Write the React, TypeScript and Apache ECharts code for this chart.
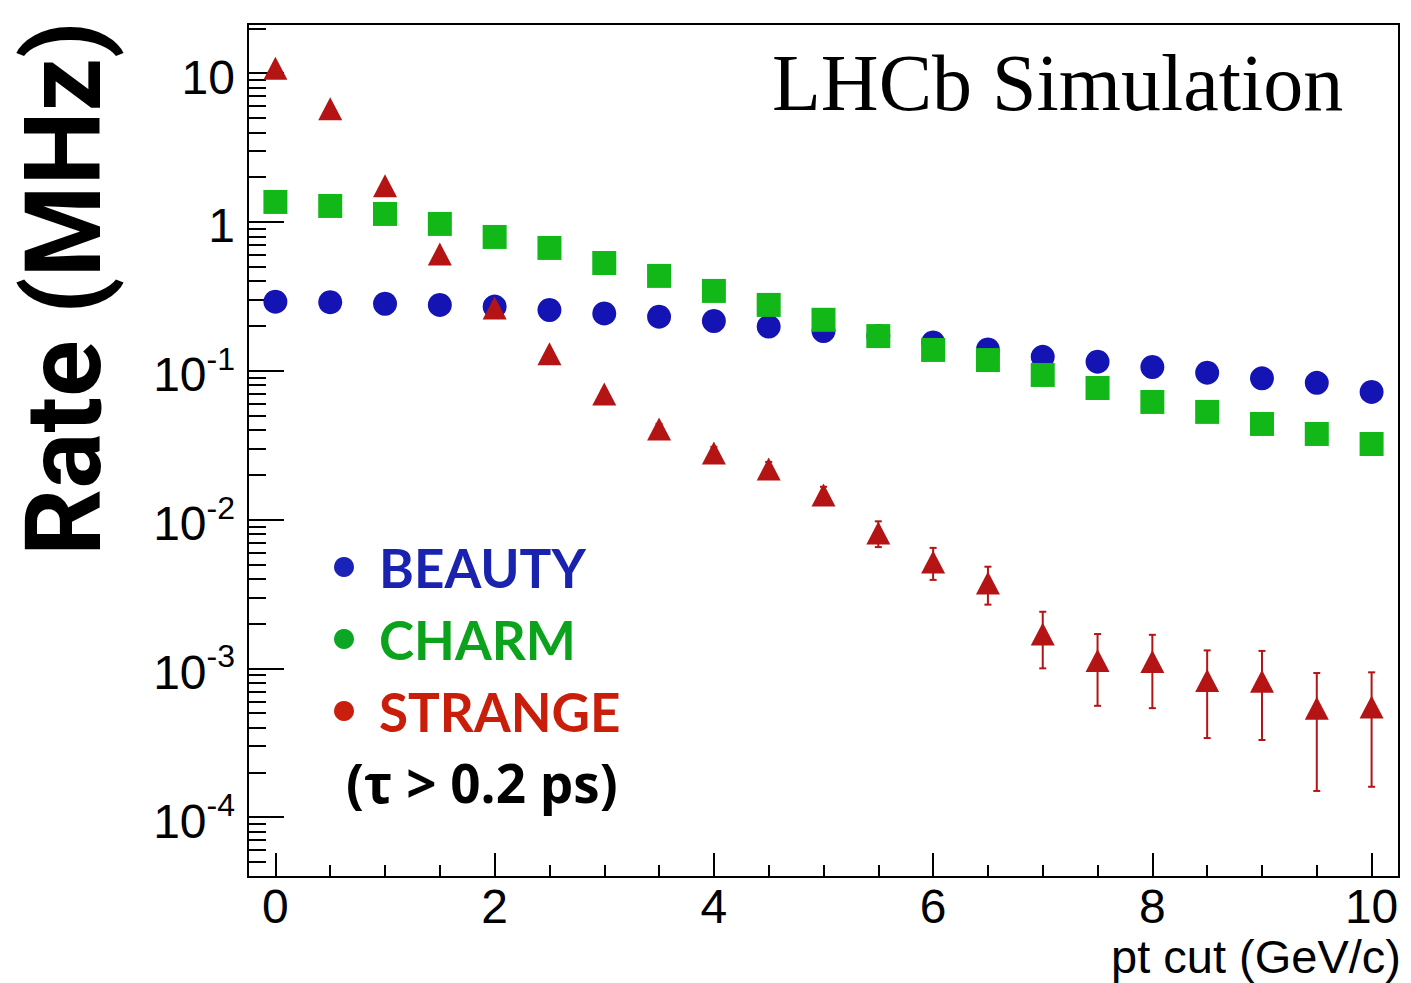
import React, { useEffect, useRef } from "react";
import * as echarts from "echarts";

// pt cut values (GeV/c)
const ptCuts = [0, 0.5, 1, 1.5, 2, 2.5, 3, 3.5, 4, 4.5, 5, 5.5, 6, 6.5, 7, 7.5, 8, 8.5, 9, 9.5, 10];
// rates (MHz)
const beautyRate = [0.291, 0.289, 0.282, 0.277, 0.270, 0.256, 0.243, 0.231, 0.216, 0.198, 0.185, 0.171, 0.155, 0.139, 0.124, 0.115, 0.106, 0.097, 0.089, 0.083, 0.072];
const charmRate = [1.363, 1.281, 1.132, 0.970, 0.793, 0.669, 0.530, 0.434, 0.344, 0.277, 0.220, 0.171, 0.138, 0.118, 0.0937, 0.0766, 0.0617, 0.0529, 0.0439, 0.0376, 0.0322];
const strangeRate = [10.8, 5.77, 1.75, 0.609, 0.264, 0.130, 0.0698, 0.0406, 0.0280, 0.0219, 0.0146, 0.00813, 0.00519, 0.00375, 0.00170, 0.00113, 0.00111, 0.00083, 0.00082, 0.00054, 0.00055];
const strangeErr = [0.055, 0.040, 0.022, 0.013, 0.0086, 0.0061, 0.0044, 0.0034, 0.0028, 0.0025, 0.0020, 0.0016, 0.00126, 0.00107, 0.0007, 0.00057, 0.00057, 0.00049, 0.00049, 0.00039, 0.00039];

const seriesNames = ["BEAUTY", "CHARM", "STRANGE"];
const xMajorTicks = [0, 2, 4, 6, 8, 10];
const xMinorTicks = [0, 0.5, 1, 1.5, 2, 2.5, 3, 3.5, 4, 4.5, 5, 5.5, 6, 6.5, 7, 7.5, 8, 8.5, 9, 9.5, 10];
const yMajorTicks = [1e-4, 1e-3, 1e-2, 1e-1, 1, 10];
const yMinorMultipliers = [2, 3, 4, 5, 6, 7, 8, 9];
const yDecades = [1e-5, 1e-4, 1e-3, 1e-2, 1e-1, 1, 10];

const X_MIN = -0.25;
const X_MAX = 10.25;
const Y_MIN = 3.96e-5;
const Y_MAX = 21.4;

const BLUE = "#1414b4";
const GREEN = "#12b818";
const RED = "#b41414";

export default function App() {
  const ref = useRef<HTMLDivElement>(null);

  useEffect(() => {
    if (!ref.current) return;
    const chart = echarts.init(ref.current, undefined, { renderer: "svg" });

    const yMinor: number[] = [];
    yDecades.forEach((d) => {
      yMinorMultipliers.forEach((m) => {
        const v = parseFloat((m * d).toPrecision(6));
        if (v >= Y_MIN && v <= Y_MAX) yMinor.push(v);
      });
    });

    const errData = ptCuts.map((x, i) => [x, strangeRate[i] - strangeErr[i], strangeRate[i] + strangeErr[i]]);

    const tickFont = "'Liberation Sans', Arial, sans-serif";
    const sansBold = "Lato, 'Open Sans', sans-serif";

    const option: any = {
      animation: false,
      backgroundColor: "#ffffff",
      grid: {
        left: 248,
        right: 12,
        top: 24,
        bottom: 106,
        show: true,
        borderColor: "#000",
        borderWidth: 2,
        containLabel: false,
        outerBoundsMode: "none",
      },
      legend: {
        orient: "vertical",
        left: 329,
        top: 532,
        itemWidth: 20,
        itemHeight: 20,
        itemGap: 12,
        selectedMode: false,
        data: [
          { name: "BEAUTY", icon: "circle", itemStyle: { color: "#1a23b8" }, textStyle: { color: "#1a22b0" } },
          { name: "CHARM", icon: "circle", itemStyle: { color: "#0ba624" }, textStyle: { color: "#0ca31c" } },
          { name: "STRANGE", icon: "circle", itemStyle: { color: "#c8200c" }, textStyle: { color: "#c81e0a" } },
        ],
        textStyle: {
          fontFamily: sansBold,
          fontWeight: "bold",
          fontSize: 53,
          lineHeight: 60,
          padding: [0, 0, 0, 20],
        },
      },
      xAxis: [
        {
          type: "value",
          min: X_MIN,
          max: X_MAX,
          position: "bottom",
          axisLine: { show: true, onZero: false, lineStyle: { color: "#000", width: 2 } },
          axisTick: { show: true, inside: true, length: 24, lineStyle: { color: "#000", width: 2 }, customValues: xMajorTicks },
          axisLabel: { show: true, customValues: xMajorTicks, margin: 10, fontSize: 48, lineHeight: 38, fontFamily: tickFont, color: "#000" },
          splitLine: { show: false },
        },
        {
          type: "value",
          min: X_MIN,
          max: X_MAX,
          position: "bottom",
          axisLine: { show: false, onZero: false },
          axisTick: { show: true, inside: true, length: 12, lineStyle: { color: "#000", width: 2 }, customValues: xMinorTicks },
          axisLabel: { show: false },
          splitLine: { show: false },
        },
      ],
      yAxis: [
        {
          type: "log",
          logBase: 10,
          min: Y_MIN,
          max: Y_MAX,
          position: "left",
          axisLine: { show: true, onZero: false, lineStyle: { color: "#000", width: 2 } },
          axisTick: { show: true, inside: true, length: 36, lineStyle: { color: "#000", width: 2 }, customValues: yMajorTicks },
          axisLabel: {
            show: true,
            customValues: yMajorTicks,
            margin: 13,
            formatter: (v: number) => {
              const e = Math.round(Math.log10(v));
              if (e === 1) return "{b|10}";
              if (e === 0) return "{b|1}";
              return "{b|10}{s|" + e + "}";
            },
            rich: {
              b: { fontSize: 48, fontFamily: tickFont, color: "#000", lineHeight: 56, padding: [8, 0, 0, 0] },
              s: { fontSize: 32, fontFamily: tickFont, color: "#000", lineHeight: 34, verticalAlign: "top" },
            },
          },
          splitLine: { show: false },
        },
        {
          type: "log",
          logBase: 10,
          min: Y_MIN,
          max: Y_MAX,
          position: "left",
          axisLine: { show: false, onZero: false },
          axisTick: { show: true, inside: true, length: 18, lineStyle: { color: "#000", width: 2 }, customValues: yMinor },
          axisLabel: { show: false },
          splitLine: { show: false },
        },
      ],
      graphic: [
        {
          type: "text",
          x: 772,
          y: 83,
          style: {
            text: "LHCb Simulation",
            fontFamily: "'Liberation Serif', 'Times New Roman', serif",
            fontSize: 80,
            fill: "#000",
            align: "left",
            verticalAlign: "middle",
          },
        },
        {
          type: "text",
          x: 1401,
          y: 956,
          style: {
            text: "pt cut (GeV/c)",
            fontFamily: tickFont,
            fontSize: 47,
            lineHeight: 40,
            fill: "#000",
            align: "right",
            verticalAlign: "middle",
          },
        },
        {
          type: "text",
          x: 64,
          y: 556,
          rotation: Math.PI / 2,
          style: {
            text: "Rate (MHz)",
            fontFamily: "Roboto, Lato, sans-serif",
            fontWeight: "bold",
            fontSize: 105,
            lineHeight: 96,
            fill: "#000",
            align: "left",
            verticalAlign: "middle",
          },
        },
        {
          type: "text",
          x: 346,
          y: 782,
          style: {
            text: "(τ > 0.2 ps)",
            fontFamily: "'Open Sans', Lato, sans-serif",
            fontWeight: "bold",
            fontSize: 53,
            fill: "#000",
            align: "left",
            verticalAlign: "middle",
          },
        },
      ],
      series: [
        {
          name: seriesNames[0],
          type: "scatter",
          xAxisIndex: 0,
          yAxisIndex: 0,
          symbol: "circle",
          symbolSize: 24,
          itemStyle: { color: BLUE, opacity: 1 },
          data: ptCuts.map((x, i) => [x, beautyRate[i]]),
        },
        {
          name: seriesNames[1],
          type: "scatter",
          xAxisIndex: 0,
          yAxisIndex: 0,
          symbol: "rect",
          symbolSize: 24,
          itemStyle: { color: GREEN, opacity: 1 },
          data: ptCuts.map((x, i) => [x, charmRate[i]]),
        },
        {
          name: "strange-errors",
          type: "custom",
          xAxisIndex: 0,
          yAxisIndex: 0,
          data: errData,
          renderItem: (params: any, api: any) => {
            const x = api.value(0);
            const lo = api.coord([x, api.value(1)]);
            const hi = api.coord([x, api.value(2)]);
            const cap = 3.5;
            const st = { stroke: RED, lineWidth: 2 };
            return {
              type: "group",
              children: [
                { type: "line", shape: { x1: lo[0], y1: lo[1], x2: hi[0], y2: hi[1] }, style: st },
                { type: "line", shape: { x1: lo[0] - cap, y1: lo[1], x2: lo[0] + cap, y2: lo[1] }, style: st },
                { type: "line", shape: { x1: hi[0] - cap, y1: hi[1], x2: hi[0] + cap, y2: hi[1] }, style: st },
              ],
            };
          },
        },
        {
          name: seriesNames[2],
          type: "scatter",
          xAxisIndex: 0,
          yAxisIndex: 0,
          symbol: "triangle",
          symbolSize: [24, 23],
          itemStyle: { color: RED, opacity: 1 },
          data: ptCuts.map((x, i) => [x, strangeRate[i]]),
        },
      ],
    };

    chart.setOption(option);
    return () => {
      chart.dispose();
    };
  }, []);

  return (
    <div
      ref={ref}
      style={{ position: "absolute", left: 0, top: 0, width: 1411, height: 983 }}
    />
  );
}
